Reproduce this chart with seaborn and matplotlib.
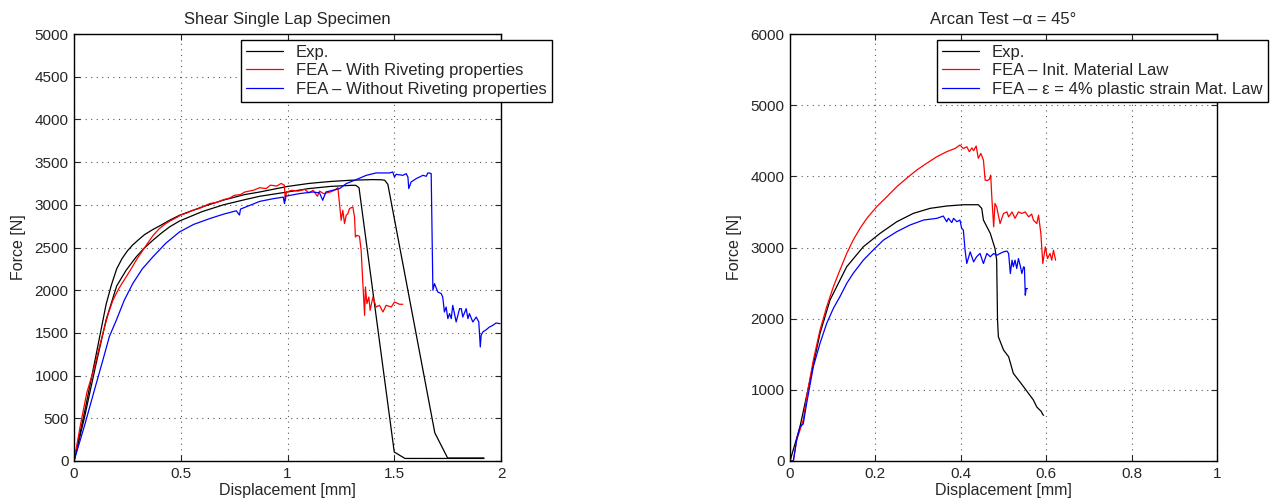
import numpy as np
import pandas as pd
import matplotlib
matplotlib.use("Agg")
import matplotlib.pyplot as plt
import seaborn as sns

# ---------------- left panel: shear single lap ----------------
lap_exp1_x = [0, 0.05, 0.1, 0.15, 0.175, 0.2, 0.225, 0.25, 0.275, 0.3, 0.33, 0.369, 0.41, 0.447, 0.494,
              0.6, 0.7, 0.8, 0.87, 1.0, 1.1, 1.2, 1.3, 1.4, 1.44, 1.455, 1.47, 1.69, 1.75, 1.92]
lap_exp1_y = [0, 580, 1200, 1830, 2060, 2250, 2370, 2460, 2530, 2586, 2650, 2710, 2765, 2818, 2877,
              2975, 3055, 3120, 3150, 3215, 3250, 3273, 3288, 3295, 3293, 3288, 3240, 330, 35, 35]

lap_exp2_x = [0, 0.05, 0.1, 0.15, 0.2, 0.244, 0.291, 0.33, 0.369, 0.41, 0.447, 0.494, 0.6, 0.7, 0.8,
              0.87, 1.0, 1.1, 1.2, 1.3, 1.32, 1.335, 1.50, 1.55, 1.92]
lap_exp2_y = [0, 520, 1100, 1650, 2050, 2233, 2389, 2495, 2584, 2670, 2740, 2810, 2920, 3000, 3060,
              3100, 3150, 3190, 3215, 3228, 3228, 3200, 105, 30, 30]

lap_riv_x = [0, 0.03, 0.06, 0.09, 0.119, 0.135, 0.16, 0.182, 0.21, 0.244, 0.27, 0.291, 0.315, 0.338,
             0.37, 0.4, 0.43, 0.45, 0.48, 0.5, 0.53, 0.55, 0.59, 0.635, 0.67, 0.7, 0.73, 0.75, 0.78,
             0.8, 0.84, 0.87, 0.9, 0.92, 0.95, 0.97, 0.985, 0.99, 0.995, 1.02, 1.05, 1.08, 1.1, 1.12,
             1.14, 1.15, 1.17, 1.2, 1.22, 1.236, 1.2436, 1.2514, 1.259, 1.267, 1.275, 1.283, 1.29,
             1.306, 1.314, 1.318, 1.325, 1.337, 1.345, 1.353, 1.361, 1.365, 1.372, 1.381, 1.387,
             1.40, 1.415, 1.431, 1.447, 1.462, 1.486, 1.501, 1.525, 1.54]
lap_riv_y = [0, 420, 800, 1050, 1335, 1491, 1720, 1881, 2020, 2155, 2260, 2350, 2440, 2525,
             2640, 2722, 2780, 2810, 2850, 2880, 2905, 2930, 2960, 3014, 3030, 3060, 3080, 3110, 3120,
             3150, 3170, 3200, 3190, 3230, 3220, 3250, 3230, 3050, 3150, 3170, 3160, 3180, 3140, 3170,
             3100, 3160, 3130, 3150, 3170, 3201, 3014, 2818, 2936, 2780, 2877, 2897, 2955,
             2975, 2857, 2623, 2643, 2631, 2467, 2077, 1706, 2038, 1843, 1920, 1765,
             1920, 1803, 1823, 1745, 1823, 1803, 1862, 1835, 1835]

lap_norv_x = [0, 0.05, 0.1, 0.135, 0.166, 0.198, 0.235, 0.275, 0.32, 0.369, 0.43, 0.494, 0.56, 0.635,
              0.7, 0.76, 0.775, 0.78, 0.83, 0.87, 0.93, 0.98, 0.986, 0.99, 1.056, 1.118, 1.15, 1.165,
              1.18, 1.212, 1.244, 1.275, 1.322, 1.369, 1.415, 1.478, 1.493, 1.501, 1.509, 1.54,
              1.556, 1.564, 1.568, 1.579, 1.603, 1.618, 1.634, 1.65, 1.657, 1.665, 1.673, 1.681,
              1.6885, 1.704, 1.72, 1.727, 1.735, 1.743, 1.751, 1.759, 1.767, 1.774, 1.782, 1.79,
              1.806, 1.814, 1.821, 1.837, 1.845, 1.852, 1.868, 1.884, 1.896, 1.903, 1.907, 1.915,
              1.931, 1.946, 1.962, 1.977, 1.996]
lap_norv_y = [0, 420, 870, 1179, 1460, 1647, 1880, 2077, 2250, 2389, 2550, 2682, 2770, 2838,
              2890, 2930, 2880, 2950, 3000, 3040, 3070, 3090, 3014, 3100, 3131, 3150, 3140, 3053,
              3150, 3170, 3190, 3248, 3295, 3345, 3373, 3373, 3384, 3325, 3357, 3345,
              3365, 3325, 3190, 3267, 3307, 3325, 3345, 3334, 3372, 3372, 3365, 1999,
              2077, 1979, 1960, 1920, 1745, 1803, 1667, 1726, 1667, 1823, 1726, 1628,
              1784, 1784, 1686, 1784, 1667, 1726, 1628, 1686, 1628, 1335, 1472, 1511,
              1538, 1569, 1589, 1616, 1608]

# ---------------- right panel: Arcan test ----------------
arc_exp_x = [0, 0.0234, 0.0469, 0.0703, 0.0937, 0.1328, 0.1718, 0.211, 0.25, 0.289, 0.328, 0.367,
             0.406, 0.441, 0.449, 0.453, 0.469, 0.48, 0.484, 0.486, 0.488, 0.5, 0.512, 0.523, 0.547,
             0.57, 0.578, 0.584, 0.588, 0.592, 0.594]
arc_exp_y = [0, 482, 1138, 1794, 2262, 2730, 3011, 3199, 3362, 3480, 3550, 3583,
             3601, 3601, 3550, 3386, 3199, 2988, 2824, 1981, 1746, 1560, 1465, 1232, 1044,
             857, 759, 722, 700, 652, 642]

arc_init_x = [0, 0.0078, 0.0156, 0.0234, 0.031, 0.039, 0.0547, 0.0703, 0.086, 0.1016, 0.117, 0.133,
              0.148, 0.164, 0.18, 0.203, 0.227, 0.25, 0.273, 0.297, 0.32, 0.344, 0.367, 0.387, 0.398,
              0.406, 0.414, 0.42, 0.426, 0.43, 0.436, 0.441, 0.447, 0.453, 0.457, 0.462, 0.467, 0.47,
              0.473, 0.477, 0.48, 0.484, 0.492, 0.5, 0.508, 0.512, 0.52, 0.527, 0.535, 0.543, 0.551,
              0.559, 0.566, 0.57, 0.578, 0.582, 0.5875, 0.592, 0.598, 0.603, 0.609, 0.613, 0.617,
              0.622]
arc_init_y = [0, 0, 295, 436, 576, 904, 1419, 1841, 2168, 2449, 2684, 2918,
              3105, 3269, 3410, 3573, 3714, 3854, 3972, 4089, 4183, 4276, 4346, 4393, 4440,
              4390, 4416, 4346, 4400, 4360, 4426, 4253, 4322, 4228, 3947, 3940, 3960, 4017,
              3666, 3291, 3619, 3570, 3337, 3478, 3500, 3430, 3500, 3410, 3500, 3478, 3500,
              3430, 3470, 3384, 3337, 3455, 3197, 2775, 3009, 2845, 2915, 2822, 2962,
              2822]

arc_4p_x = [0, 0.0078, 0.0156, 0.0234, 0.031, 0.039, 0.0547, 0.0703, 0.086, 0.1016, 0.117, 0.133,
            0.148, 0.172, 0.195, 0.219, 0.25, 0.281, 0.313, 0.344, 0.359, 0.367, 0.371, 0.379, 0.383,
            0.391, 0.398, 0.402, 0.406, 0.41, 0.414, 0.422, 0.43, 0.437, 0.445, 0.453, 0.461, 0.469,
            0.477, 0.484, 0.492, 0.5, 0.508, 0.512, 0.516, 0.52, 0.523, 0.527, 0.531, 0.535, 0.539,
            0.543, 0.547, 0.549, 0.551, 0.553, 0.556]
arc_4p_y = [0, 0, 295, 482, 520, 810, 1326, 1654, 1935, 2145, 2310, 2497,
            2637, 2824, 2965, 3105, 3222, 3316, 3386, 3410, 3442, 3362, 3410, 3350, 3410,
            3362, 3386, 3269, 3245, 2962, 2775, 2939, 2798, 2870, 2916, 2775, 2916, 2870,
            2916, 2890, 2916, 2939, 2950, 2916, 2634, 2822, 2730, 2822, 2705, 2845, 2750,
            2634, 2728, 2720, 2330, 2423, 2423]

lap_xticks = [0, 0.5, 1, 1.5, 2]
lap_xticklabels = ["0", "0.5", "1", "1.5", "2"]
lap_yticks = list(range(0, 5001, 500))
arc_xticks = [0, 0.2, 0.4, 0.6, 0.8, 1]
arc_xticklabels = ["0", "0.2", "0.4", "0.6", "0.8", "1"]
arc_yticks = list(range(0, 6001, 1000))

sns.set_style("ticks")
plt.rcParams['font.family'] = ['Liberation Sans', 'DejaVu Sans']
plt.rcParams['font.size'] = 11

fig = plt.figure(figsize=(12.78, 5.04), dpi=100)
ax1 = fig.add_axes([74/1278, 1-461/504, 427/1278, 427/504])
ax2 = fig.add_axes([790/1278, 1-461/504, 427/1278, 427/504])

lw = 0.9
def draw(ax, x, y, c, label=None):
    sns.lineplot(x=x, y=y, ax=ax, color=c, linewidth=lw, estimator=None, sort=False,
                 label=label, legend=False)

draw(ax1, lap_exp1_x, lap_exp1_y, "black", "Exp.")
draw(ax1, lap_exp2_x, lap_exp2_y, "black")
draw(ax1, lap_riv_x, lap_riv_y, "red", "FEA \u2013 With Riveting properties")
draw(ax1, lap_norv_x, lap_norv_y, "blue", "FEA \u2013 Without Riveting properties")

draw(ax2, arc_exp_x, arc_exp_y, "black", "Exp.")
draw(ax2, arc_init_x, arc_init_y, "red", "FEA \u2013 Init. Material Law")
draw(ax2, arc_4p_x, arc_4p_y, "blue", "FEA \u2013 \u03b5 = 4% plastic strain Mat. Law")

def style(ax, xlim, ylim, xt, xtl, yt, title, anchor):
    ax.set_xlim(*xlim)
    ax.set_ylim(*ylim)
    ax.set_xticks(xt)
    ax.set_xticklabels(xtl)
    ax.set_yticks(yt)
    ax.set_yticklabels([str(v) for v in yt])
    ax.grid(True, linestyle=(0, (1, 4)), color="0.35", linewidth=0.8)
    ax.tick_params(direction="in", top=True, right=True, length=4, width=0.8, labelsize=11, pad=4)
    for s in ax.spines.values():
        s.set_visible(True)
        s.set_linewidth(1.0)
        s.set_color("black")
    ax.set_xlabel("Displacement [mm]", fontsize=11.5, labelpad=2)
    ax.set_ylabel("Force [N]", fontsize=11.5, labelpad=6)
    ax.set_title(title, fontsize=12, pad=7)
    leg = ax.legend(loc="upper left", bbox_to_anchor=anchor, fontsize=12, frameon=True,
                    fancybox=False, edgecolor="black", framealpha=1, borderpad=0.3,
                    labelspacing=0.2, handlelength=2.2, handletextpad=0.8, borderaxespad=0)
    leg.get_frame().set_linewidth(1.0)
    leg.set_zorder(5)

style(ax1, (0, 2), (0, 5000), lap_xticks, lap_xticklabels, lap_yticks,
      "Shear Single Lap Specimen", ((241-74)/427, (461-40)/427))
style(ax2, (0, 1), (0, 6000), arc_xticks, arc_xticklabels, arc_yticks,
      "Arcan Test \u2013\u03b1 = 45\u00b0", ((937-790)/427, (461-40)/427))

fig.savefig("out.png", dpi=100)
